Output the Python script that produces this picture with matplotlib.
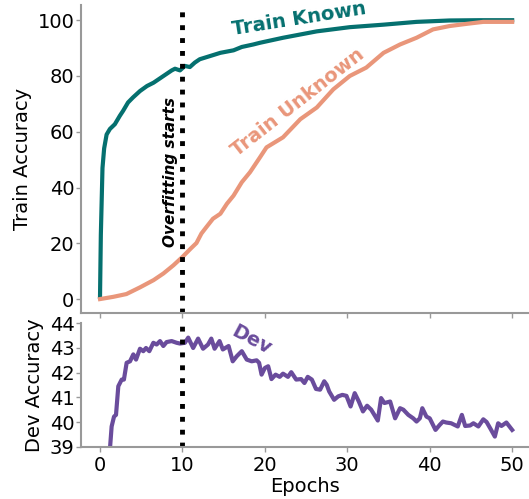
import numpy as np
import matplotlib.pyplot as plt

#- Data:
known_epoch = [0.0, 0.1, 0.3, 0.5, 0.8, 1.2, 1.8, 2.4, 2.8, 3.4, 4.0, 4.85, 5.7,
               6.5, 7.3, 8.1, 8.7, 9.1, 9.7, 10.3, 10.9, 11.5, 12.1, 13.3, 14.6,
               16.2, 17.2, 18.6, 19.4, 22.2, 26.3, 30.3, 34.4, 38.4, 42.4, 46.0, 50.0]
known_acc = [0.8, 23, 47, 54, 59, 61, 62.7, 65.7, 67.5, 70.5, 72.3, 74.6, 76.4,
             77.6, 79.2, 80.8, 82.0, 82.6, 82.0, 83.6, 83.2, 84.8, 86.0, 87.1, 88.3,
             89.2, 90.4, 91.3, 91.9, 93.7, 96.0, 97.5, 98.4, 99.4, 99.9, 100.0, 100.0]

unknown_epoch = [0.0, 1.6, 3.2, 4.85, 6.5, 7.7, 8.9, 10.0, 11.0, 11.7, 12.3, 12.9,
                 13.7, 14.6, 15.4, 16.2, 17.2, 18.2, 19.4, 20.2, 22.2, 24.3, 26.3,
                 28.3, 30.3, 32.3, 34.4, 36.4, 38.4, 40.4, 42.4, 44.5, 46.5, 50.0]
unknown_acc = [0.0, 0.8, 1.8, 4.2, 6.8, 9.2, 12.1, 15.1, 18.1, 20.1, 23.5, 25.8,
               28.8, 30.6, 34.2, 37.1, 41.9, 45.5, 50.8, 54.4, 58.0, 64.5, 68.7,
               75.2, 80.0, 83.0, 88.3, 91.3, 93.7, 96.7, 97.9, 98.7, 99.4, 99.4]

dev_epoch = [1.0, 1.41, 1.7, 1.94, 2.22, 2.63, 2.9, 3.23, 3.64, 4.04, 4.37, 4.85,
             5.25, 5.58, 5.98, 6.47, 6.87, 7.28, 7.68, 8.08, 8.69, 9.3, 9.7, 10.3,
             10.7, 11.3, 11.9, 12.5, 13.1, 13.5, 13.9, 14.5, 14.9, 15.6, 16.1, 16.6,
             17.2, 17.8, 18.4, 19.0, 19.3, 19.6, 20.0, 20.4, 20.8, 21.3, 21.8, 22.2,
             22.8, 23.2, 23.8, 24.4, 24.8, 25.2, 25.7, 26.2, 26.7, 27.2, 27.5, 27.8,
             28.4, 28.9, 29.4, 29.9, 30.4, 30.9, 31.4, 31.9, 32.4, 32.9, 33.7, 34.1,
             34.5, 35.2, 35.8, 36.4, 36.8, 37.4, 38.0, 38.4, 38.8, 39.1, 39.6, 40.0,
             40.7, 41.2, 41.6, 42.0, 42.6, 43.4, 43.9, 44.3, 44.9, 45.3, 45.9, 46.5,
             46.9, 47.4, 47.9, 48.3, 48.7, 49.3, 50.0]
dev_acc = [38.0, 39.82, 40.22, 40.29, 41.45, 41.72, 41.72, 42.4, 42.46, 42.74, 42.53,
           42.97, 42.87, 43.0, 42.87, 43.21, 43.14, 43.28, 43.08, 43.24, 43.28, 43.21,
           43.18, 43.21, 43.42, 43.0, 43.38, 42.97, 43.14, 43.38, 42.97, 43.28, 42.94,
           43.08, 42.46, 42.67, 42.87, 42.53, 42.46, 42.5, 42.4, 41.92, 42.19, 42.26,
           41.74, 41.92, 41.83, 41.96, 41.83, 42.02, 41.72, 41.74, 41.58, 41.83, 41.72,
           41.34, 41.31, 41.65, 41.51, 41.24, 40.9, 41.04, 41.1, 41.06, 40.63, 41.17,
           40.83, 40.43, 40.66, 40.5, 40.06, 40.97, 40.77, 40.83, 40.15, 40.56, 40.5,
           40.29, 40.15, 40.02, 40.15, 40.56, 40.22, 40.15, 39.68, 39.88, 40.02, 39.98,
           39.95, 39.82, 40.29, 39.84, 39.86, 39.95, 39.82, 40.11, 40.0, 39.71, 39.41,
           39.95, 39.84, 39.98, 39.68]

overfit_epoch = 10

teal = '#05706f'
salmon = '#e9967a'
purple = '#6a4c9c'
grey = '#999999'

plt.rcParams['font.size'] = 14

fig = plt.figure(figsize=(5.29, 4.99), dpi=100)
ax1 = fig.add_axes([0.1526, 0.3727, 0.8475, 0.617])
ax2 = fig.add_axes([0.1526, 0.1048, 0.8475, 0.2473])

#- Top panel: training accuracy
ax1.plot(known_epoch, known_acc, color=teal, lw=3)
ax1.plot(unknown_epoch, unknown_acc, color=salmon, lw=3)
ax1.axvline(overfit_epoch, color='k', ls=':', lw=3.5)
ax1.set_ylim(-5, 105.4)
ax1.set_yticks([0, 20, 40, 60, 80, 100])
ax1.set_ylabel('Train Accuracy')
ax1.text(24.1, 100.4, 'Train Known', color=teal, fontweight='bold',
         rotation=9, ha='center', va='center')
ax1.text(24.0, 70.6, 'Train Unknown', color=salmon, fontweight='bold',
         rotation=38, ha='center', va='center')
ax1.text(8.6, 45.5, 'Overfitting starts', color='k', fontweight='bold',
         fontstyle='italic', fontsize=11, rotation=90, ha='center', va='center')
ax1.tick_params(labelbottom=False)

#- Bottom panel: dev accuracy
ax2.plot(dev_epoch, dev_acc, color=purple, lw=3)
ax2.axvline(overfit_epoch, color='k', ls=':', lw=3.5)
ax2.set_ylim(39, 44)
ax2.set_yticks([39, 40, 41, 42, 43, 44])
ax2.set_ylabel('Dev Accuracy')
ax2.set_xlabel('Epochs', labelpad=1)
ax2.text(18.4, 43.32, 'Dev', color=purple, fontweight='bold',
         rotation=-28, ha='center', va='center')

for ax in (ax1, ax2):
    ax.set_xlim(-2.34, 52.05)
    ax.set_xticks([0, 10, 20, 30, 40, 50])
    ax.spines['top'].set_visible(False)
    ax.spines['right'].set_visible(False)
    ax.spines['left'].set_color(grey)
    ax.spines['bottom'].set_color(grey)
    ax.spines['left'].set_linewidth(1.5)
    ax.spines['bottom'].set_linewidth(1.5)
    ax.tick_params(color=grey, length=3.5, width=1)
    ax.tick_params(axis='y', pad=1)

fig.align_ylabels([ax1, ax2])
plt.savefig('out.png', dpi=100)
